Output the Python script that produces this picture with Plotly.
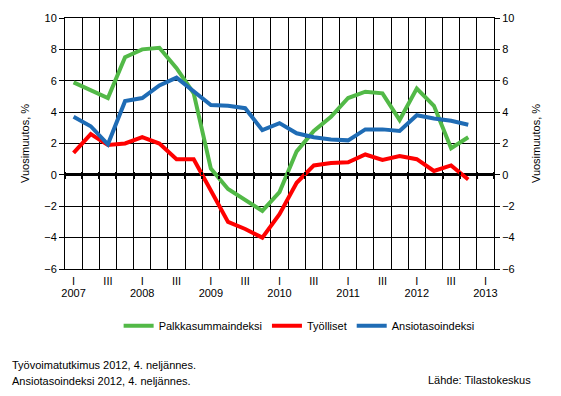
import plotly.graph_objects as go

quarters = ["2007Q1","2007Q2","2007Q3","2007Q4","2008Q1","2008Q2","2008Q3","2008Q4",
            "2009Q1","2009Q2","2009Q3","2009Q4","2010Q1","2010Q2","2010Q3","2010Q4",
            "2011Q1","2011Q2","2011Q3","2011Q4","2012Q1","2012Q2","2012Q3","2012Q4","2013Q1"]
quarter_text = ["I","","III","","I","","III","","I","","III","",
                "I","","III","","I","","III","","I","","III","","I"]
year_text = ["2007","","","","2008","","","","2009","","","",
             "2010","","","","2011","","","","2012","","","","2013"]

palkkasumma = [5.9, 5.4, 4.9, 7.5, 8.0, 8.1, 6.8, 5.2, 0.4, -0.9, -1.6, -2.3,
               -1.1, 1.5, 2.8, 3.7, 4.9, 5.3, 5.2, 3.5, 5.5, 4.4, 1.7, 2.4]
tyolliset = [1.4, 2.6, 1.9, 2.0, 2.4, 2.0, 1.0, 1.0, -1.0, -3.0, -3.45, -4.0,
             -2.5, -0.5, 0.6, 0.75, 0.8, 1.3, 0.95, 1.2, 1.0, 0.25, 0.6, -0.3]
ansiotaso = [3.7, 3.1, 1.95, 4.7, 4.9, 5.7, 6.2, 5.3, 4.45, 4.4, 4.25, 2.85,
             3.3, 2.65, 2.4, 2.25, 2.2, 2.9, 2.9, 2.8, 3.8, 3.6, 3.45, 3.2]

series = [("Palkkasummaindeksi", palkkasumma, "#52B947"),
          ("Työlliset", tyolliset, "#FF0000"),
          ("Ansiotasoindeksi", ansiotaso, "#1F6CB5")]

n = len(quarters)
xs = list(range(n))
FONT = "Liberation Sans, Arial, sans-serif"

fig = go.Figure()
for name, vals, col in series:
    fig.add_trace(go.Scatter(x=xs[:len(vals)], y=vals, mode="lines", name=name,
                             line=dict(color=col, width=4)))

def dummy(**kw):
    fig.add_trace(go.Scatter(x=[0], y=[0], mode="lines", showlegend=False,
                             hoverinfo="skip", line=dict(color="rgba(0,0,0,0)"), **kw))

dummy(yaxis="y2")
dummy(xaxis="x2")
dummy(xaxis="x3")
dummy(xaxis="x4")

boundaries = [i - 0.5 for i in range(n + 1)]
zero_pos = (0 - (-6)) / 16.0
xr = [-0.5, n - 0.5]

fig.update_layout(
    width=561, height=396,
    margin=dict(l=65, r=67, t=18, b=127, autoexpand=False),
    paper_bgcolor="white", plot_bgcolor="white",
    font=dict(family=FONT, size=11, color="black"),
    showlegend=True,
    legend=dict(orientation="h", x=0.125, xanchor="left", y=-0.168, yanchor="top",
                font=dict(size=11), itemwidth=30, traceorder="normal"),
    xaxis=dict(range=xr, tickmode="array", tickvals=xs, ticktext=quarter_text,
               showgrid=False, zeroline=False, ticks="", showline=True, linecolor="black",
               linewidth=1, mirror=True, tickfont=dict(size=11), automargin=False,
               ticklabelstandoff=2,
               minor=dict(tickvals=boundaries, showgrid=True, gridcolor="black",
                          gridwidth=1, ticks="")),
    xaxis4=dict(range=xr, overlaying="x", anchor="y", side="bottom", showgrid=False,
                zeroline=False, tickmode="array", tickvals=xs, ticktext=year_text,
                ticks="", showline=False, automargin=False, ticklabelstandoff=16,
                tickfont=dict(size=11)),
    xaxis2=dict(range=xr, overlaying="x", anchor="free", position=zero_pos,
                side="bottom", showgrid=False, zeroline=False, showticklabels=False,
                tickmode="array", tickvals=boundaries, ticks="outside", ticklen=3,
                tickwidth=2, tickcolor="black", showline=False, automargin=False),
    xaxis3=dict(range=xr, overlaying="x", anchor="free", position=zero_pos,
                side="top", showgrid=False, zeroline=False, showticklabels=False,
                tickmode="array", tickvals=boundaries, ticks="outside", ticklen=3,
                tickwidth=2, tickcolor="black", showline=False, automargin=False),
    yaxis=dict(range=[-6, 10], dtick=2, tick0=-6, showgrid=True, gridcolor="black",
               gridwidth=1, zeroline=True, zerolinecolor="black", zerolinewidth=3,
               ticks="outside", ticklen=5, tickcolor="black", showline=True,
               linecolor="black", linewidth=1, automargin=False,
               title=dict(text="Vuosimuutos, %", font=dict(size=11), standoff=12)),
    yaxis2=dict(range=[-6, 10], dtick=2, tick0=-6, overlaying="y", side="right",
                showgrid=False, zeroline=False, ticks="outside", ticklen=5,
                tickcolor="black", showline=True, linecolor="black", linewidth=1,
                automargin=False,
                title=dict(text="Vuosimuutos, %", font=dict(size=11), standoff=18)),
)

fig.add_annotation(text="Työvoimatutkimus 2012, 4. neljännes.", xref="paper", yref="paper",
                   x=-0.128, y=-0.35, xanchor="left", yanchor="top", showarrow=False,
                   font=dict(size=11))
fig.add_annotation(text="Ansiotasoindeksi 2012, 4. neljännes.", xref="paper", yref="paper",
                   x=-0.128, y=-0.415, xanchor="left", yanchor="top", showarrow=False,
                   font=dict(size=11))
fig.add_annotation(text="Lähde: Tilastokeskus", xref="paper", yref="paper",
                   x=1.092, y=-0.41, xanchor="right", yanchor="top", showarrow=False,
                   font=dict(size=11))

fig.write_html("out.html", config={"displayModeBar": False},
               post_script="document.body.style.margin='0';")
